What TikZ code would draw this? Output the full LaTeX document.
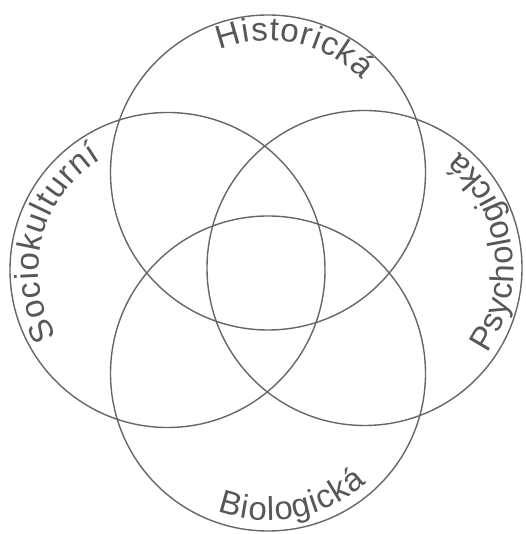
\documentclass[tikz,border=0pt]{standalone}
\usepackage{fontspec}
\usetikzlibrary{decorations.text}
\newfontfamily\lblfont{Liberation Sans}
\definecolor{ringgray}{gray}{0.40}
\definecolor{textgray}{gray}{0.34}
\tikzset{
  ring/.style={draw=ringgray, line width=1.4pt},
  arclabel/.style={decorate, decoration={text effects along path, text={#1},
    text align=center, text effects/.cd, text along path,
    characters={text=textgray},
    character widths={inner xsep=0.5pt}}}
}
\begin{document}
\lblfont\fontsize{33}{33}\selectfont
\begin{tikzpicture}[x=1pt, y=1pt]
    \useasboundingbox (0,0) rectangle (525,534);
    % centres of the four circles
    \coordinate (hist) at (268,361.5);
    \coordinate (bio) at (268,160.5);
    \coordinate (soc) at (167.5,264);
    \coordinate (psy) at (364.5,266);

    % circles
    \draw[ring] (hist) circle[radius=157.5];
    \draw[ring] (bio) circle[radius=157.5];
    \draw[ring] (soc) circle[radius=157.5];
    \draw[ring] (psy) circle[radius=157.5];

    % labels along the circles
    \path[arclabel=Historická] ([shift={(138:132)}]hist) arc[start angle=138, end angle=18, radius=132];
    \path[arclabel=Sociokulturní] ([shift={(226:129)}]soc) arc[start angle=226, end angle=106, radius=129];
    \path[arclabel=Psychologická] ([shift={(-62:149)}]psy) arc[start angle=-62, end angle=78, radius=149];
    \path[arclabel=Biologická] ([shift={(221:147)}]bio) arc[start angle=221, end angle=341, radius=147];
\end{tikzpicture}
\end{document}
